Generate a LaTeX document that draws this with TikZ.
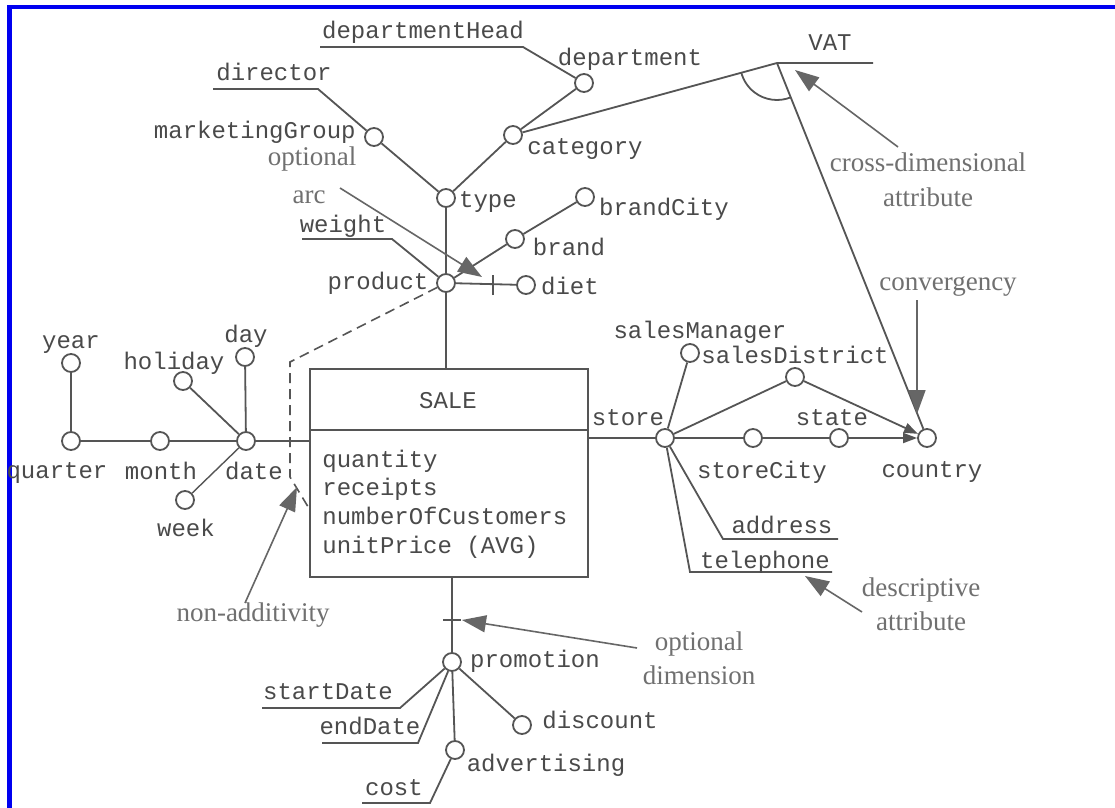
\documentclass[tikz,border=0pt]{standalone}
\usepackage{fontspec}
\setmainfont{Liberation Serif}
\setmonofont{Liberation Mono}
\usetikzlibrary{arrows.meta}

\definecolor{linecol}{HTML}{555555}
\definecolor{txtcol}{HTML}{4A4A4A}
\definecolor{notecol}{HTML}{707070}
\definecolor{framecol}{HTML}{0000F0}

\tikzset{
  dot/.style={circle, draw=linecol, fill=white, line width=0.9pt, minimum size=9pt, inner sep=0pt},
  lbl/.style={font=\ttfamily\fontsize{12}{14}\selectfont, text=txtcol, inner sep=0pt, text height=8pt, text depth=0pt},
  note/.style={font=\fontsize{13.5}{16}\selectfont, text=notecol, inner sep=0pt, anchor=base},
  conn/.style={draw=linecol, line width=0.9pt},
  pointer/.style={draw=linecol!90, line width=0.8pt, -{Triangle[length=12pt,width=8.5pt]}},
  conv/.style={conn, -{Triangle[length=7pt,width=5pt]}},
  factbox/.style={draw=linecol, line width=1pt, fill=white, minimum width=139pt, minimum height=104pt, inner sep=0pt}
}

\begin{document}
\begin{tikzpicture}[x=0.5pt,y=-0.5pt]
  \fill[white] (0,0) rectangle (1115,808);
  \useasboundingbox (0,0) rectangle (1115,808);

  % frame
  \draw[framecol, line width=2.2pt] (9.5,808) -- (9.5,7) -- (1115,7);

  % ---------- fact ----------
  \node[factbox] (sale) at (449,473) {};
  \coordinate (divy) at (449,430);
  \draw[conn, line width=1pt] (sale.west |- divy) -- (sale.east |- divy);
  \node[lbl] (saleName) at (448,400) {SALE};
  \node[lbl, anchor=west] (m1) at (322,459) {quantity};
  \node[lbl, anchor=west] (m2) at (322,487) {receipts};
  \node[lbl, anchor=west] (m3) at (322,516) {numberOfCustomers};
  \node[lbl, anchor=west] (m4) at (322,545) {unitPrice (AVG)};

  % ---------- product hierarchy ----------
  \node[dot] (department) at (584,83) {};
  \node[dot] (category) at (513,135) {};
  \node[dot] (marketingGroup) at (374,137) {};
  \node[dot] (type) at (446,198) {};
  \node[dot] (brandCity) at (585,197) {};
  \node[dot] (brand) at (515,239) {};
  \node[dot] (product) at (446,283) {};
  \node[dot] (diet) at (526,285) {};

  \coordinate (dhEnd) at (523,47);   \coordinate (dhStart) at (320,47);
  \coordinate (dirEnd) at (318,89);  \coordinate (dirStart) at (213,89);
  \coordinate (wEnd) at (392,239);   \coordinate (wStart) at (302,239);
  \coordinate (vat) at (777,63);     \coordinate (vatEnd) at (873,63);

  \draw[conn] (department) -- (dhEnd) -- (dhStart);
  \draw[conn] (marketingGroup) -- (dirEnd) -- (dirStart);
  \draw[conn] (department) -- (category);
  \draw[conn] (category) -- (type);
  \draw[conn] (marketingGroup) -- (type);
  \draw[conn] (type) -- (product);
  \draw[conn] (product) -- (product |- sale.north);
  \draw[conn] (product) -- (brand);
  \draw[conn] (brand) -- (brandCity);
  \draw[conn] (product) -- (diet);
  \draw[conn] (product) -- (wEnd) -- (wStart);
  % optional marker on diet
  \coordinate (dietTick) at (493,285);
  \draw[conn] ([yshift=-5pt]dietTick) -- ([yshift=5pt]dietTick);

  \node[lbl] (departmentHeadL) at (423,31) {departmentHead};
  \node[lbl] (departmentL) at (630,58) {department};
  \node[lbl] (directorL) at (274,73) {director};
  \node[lbl, anchor=east] (marketingGroupL) at (356,131) {marketingGroup};
  \node[lbl] (categoryL) at (585,147) {category};
  \node[lbl] (typeL) at (488,199) {type};
  \node[lbl] (brandCityL) at (664,208) {brandCity};
  \node[lbl] (brandL) at (569,248) {brand};
  \node[lbl] (weightL) at (343,225) {weight};
  \node[lbl] (productL) at (378,281) {product};
  \node[lbl] (dietL) at (570,286) {diet};

  % ---------- cross-dimensional attribute ----------
  \node[lbl] (vatL) at (830,43) {VAT};
  \draw[conn] (category) -- (vat) -- (vatEnd);

  % ---------- store hierarchy ----------
  \node[dot] (store) at (665,438) {};
  \node[dot] (salesManager) at (690,353) {};
  \node[dot] (salesDistrict) at (795,377) {};
  \node[dot] (storeCity) at (753,438) {};
  \node[dot] (state) at (839,438) {};
  \node[dot] (country) at (927,438) {};

  \coordinate (adEnd) at (723,539);  \coordinate (adStart) at (838,539);
  \coordinate (telEnd) at (690,572); \coordinate (telStart) at (832,572);

  \draw[conn] (sale.east |- store) -- (store);
  \draw[conn] (store) -- (salesManager);
  \draw[conn] (store) -- (salesDistrict);
  \draw[conv] (salesDistrict) -- (country);
  \draw[conn] (store) -- (storeCity);
  \draw[conn] (storeCity) -- (state);
  \draw[conv] (state) -- (country);
  \draw[conn] (store) -- (adEnd) -- (adStart);
  \draw[conn] (store) -- (telEnd) -- (telStart);
  \draw[conn] (vat) -- (country);
  \draw[conn] (vat) ++(68:37) arc[start angle=68, end angle=165, radius=37];

  \node[lbl] (storeL) at (628,417) {store};
  \node[lbl] (salesManagerL) at (700,330) {salesManager};
  \node[lbl] (salesDistrictL) at (795,355) {salesDistrict};
  \node[lbl] (stateL) at (832,417) {state};
  \node[lbl] (storeCityL) at (762,470) {storeCity};
  \node[lbl] (countryL) at (932,469) {country};
  \node[lbl] (addressL) at (782,525) {address};
  \node[lbl] (telephoneL) at (765,560) {telephone};

  % ---------- date hierarchy ----------
  \node[dot] (date) at (246,441) {};
  \node[dot] (month) at (160,441) {};
  \node[dot] (quarter) at (71,441) {};
  \node[dot] (year) at (71,363) {};
  \node[dot] (holiday) at (183,381) {};
  \node[dot] (day) at (245,357) {};
  \node[dot] (week) at (185,500) {};

  \draw[conn] (date) -- (date -| sale.west);
  \draw[conn] (date) -- (month);
  \draw[conn] (month) -- (quarter);
  \draw[conn] (quarter) -- (year);
  \draw[conn] (date) -- (holiday);
  \draw[conn] (date) -- (day);
  \draw[conn, line width=0.7pt] (date) -- (week);

  \node[lbl] (yearL) at (71,340) {year};
  \node[lbl] (holidayL) at (174,361) {holiday};
  \node[lbl] (dayL) at (246,335) {day};
  \node[lbl] (quarterL) at (57,470) {quarter};
  \node[lbl] (monthL) at (161,471) {month};
  \node[lbl] (dateL) at (254,471) {date};
  \node[lbl] (weekL) at (186,528) {week};

  % non-additivity (dashed)
  \coordinate (na1) at (290,362);
  \coordinate (na2) at (290,477);
  \coordinate (na3) at (310,510);
  \draw[conn, line width=0.8pt, dash pattern=on 5pt off 3pt] (product) -- (na1) -- (na2) -- (na3);

  % ---------- promotion ----------
  \node[dot] (promotion) at (452,662) {};
  \node[dot] (discount) at (522,725) {};
  \node[dot] (advertising) at (455,750) {};

  \coordinate (sdEnd) at (400,708);  \coordinate (sdStart) at (262,708);
  \coordinate (edEnd) at (418,743);  \coordinate (edStart) at (322,743);
  \coordinate (cEnd) at (430,803);   \coordinate (cStart) at (362,803);
  \coordinate (promTick) at (452,620);

  \draw[conn] (promotion) -- (promotion |- sale.south);
  \draw[conn] ([xshift=-4.5pt]promTick) -- ([xshift=4.5pt]promTick);
  \draw[conn] (promotion) -- (sdEnd) -- (sdStart);
  \draw[conn] (promotion) -- (edEnd) -- (edStart);
  \draw[conn] (promotion) -- (discount);
  \draw[conn] (promotion) -- (advertising);
  \draw[conn] (advertising) -- (cEnd) -- (cStart);

  \node[lbl] (promotionL) at (535,659) {promotion};
  \node[lbl] (startDateL) at (328,691) {startDate};
  \node[lbl] (endDateL) at (370,726) {endDate};
  \node[lbl] (discountL) at (600,720) {discount};
  \node[lbl] (advertisingL) at (546,763) {advertising};
  \node[lbl] (costL) at (394,787) {cost};

  % ---------- annotations ----------
  \node[note] (optArc1) at (312,166) {optional};
  \node[note] (optArc2) at (309,204) {arc};
  \node[note] (cross1) at (928,172) {cross-dimensional};
  \node[note] (cross2) at (928,206) {attribute};
  \node[note] (convL) at (948,291) {convergency};
  \node[note] (desc1) at (921,596) {descriptive};
  \node[note] (desc2) at (921,630) {attribute};
  \node[note] (optDim1) at (699,650) {optional};
  \node[note] (optDim2) at (699,684) {dimension};
  \node[note] (nonAdd) at (253,621) {non-additivity};

  \coordinate (arcTail) at (340,188);  \coordinate (arcTip) at (482,277);
  \coordinate (cdTail) at (898,147);   \coordinate (cdTip) at (795,70);
  \coordinate (cvTail) at (917,300);   \coordinate (cvTip) at (917,414);
  \coordinate (daTail) at (862,612);   \coordinate (daTip) at (805,576);
  \coordinate (odTail) at (637,648);   \coordinate (odTip) at (462,620);
  \coordinate (naTail) at (245,603);   \coordinate (naTip) at (297,487);

  \draw[pointer] (arcTail) -- (arcTip);
  \draw[pointer] (cdTail) -- (cdTip);
  \draw[pointer] (cvTail) -- (cvTip);
  \draw[pointer] (daTail) -- (daTip);
  \draw[pointer] (odTail) -- (odTip);
  \draw[pointer] (naTail) -- (naTip);
\end{tikzpicture}
\end{document}
